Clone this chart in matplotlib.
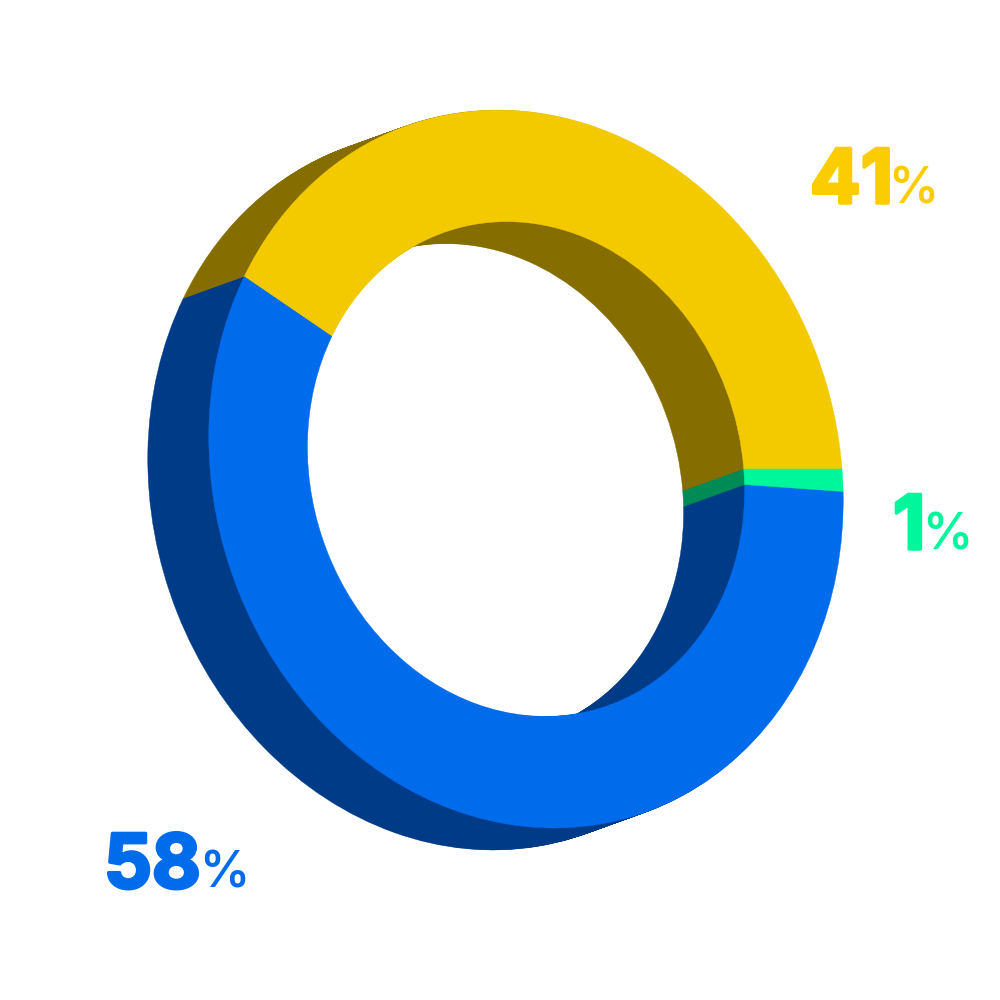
"""
3D style ring chart: yellow / green / blue shares
"""

import matplotlib
matplotlib.use("Agg")

import matplotlib.patheffects as pe
import matplotlib.pyplot as plt
from matplotlib.patches import Wedge
from matplotlib.transforms import Affine2D

# ==========================================================
# DATA
# ==========================================================

# counter-clockwise from the horizontal seam on the right
labels = ["41", "58", "1"]
values = [41, 58, 1]

front_colors = ["#F3C900", "#006CEB", "#00F69A"]
side_colors = ["#856D00", "#003B87", "#008A55"]
text_colors = ["#FBCD00", "#006CEB", "#00F69A"]

# label anchors in picture pixels, y measured from the top
number_x = [810, 104, 893]
percent_x = [888, 199, 922]
baseline_y = [203, 888, 549]

# ==========================================================
# RING GEOMETRY
# ==========================================================

CENTER_X = 526
CENTER_Y = 531
SCALE_X = 316
SCALE_Y = 359
SHEAR = 28
HOLE = 0.689
DEPTH_X = -61
DEPTH_Y = -22
LAYERS = 61


def ring_transform(ax, step):
    # unit circle -> sheared ellipse, moved back along the depth direction
    matrix = [
        [SCALE_X, -SHEAR, CENTER_X + DEPTH_X * step],
        [0, SCALE_Y, CENTER_Y + DEPTH_Y * step],
        [0, 0, 1],
    ]
    return Affine2D(matrix) + ax.transData


def draw_ring(ax, colors, step, zorder):
    start = 0
    for value, color in zip(values, colors):
        sweep = value / sum(values) * 360
        wedge = Wedge(
            (0, 0), 1, start, start + sweep,
            width=1 - HOLE,
            facecolor=color,
            edgecolor=color,
            linewidth=0.3,
            transform=ring_transform(ax, step),
            zorder=zorder,
        )
        ax.add_patch(wedge)
        start += sweep


# ==========================================================
# DRAW
# ==========================================================

fig = plt.figure(figsize=(10, 10), dpi=100)
ax = fig.add_axes([0, 0, 1, 1])
ax.set_xlim(0, 1000)
ax.set_ylim(0, 1000)
ax.axis("off")

# side wall, back to front
for i in range(LAYERS, 0, -1):
    draw_ring(ax, side_colors, i / LAYERS, LAYERS - i + 1)

# front face
draw_ring(ax, front_colors, 0, LAYERS + 1)

# labels, the stroke makes the digits as heavy as the original
for k in range(len(labels)):
    ax.text(
        number_x[k], 1000 - baseline_y[k], labels[k],
        family="Inter", fontsize=54, fontweight="bold",
        color=text_colors[k], ha="left", va="baseline",
        path_effects=[pe.withStroke(linewidth=2.5, foreground=text_colors[k])],
    )
    ax.text(
        percent_x[k], 1000 - baseline_y[k], "%",
        family="Inter", fontsize=36, fontweight="semibold",
        color=text_colors[k], ha="left", va="baseline",
    )

fig.savefig("out.png", dpi=100)
plt.close(fig)
